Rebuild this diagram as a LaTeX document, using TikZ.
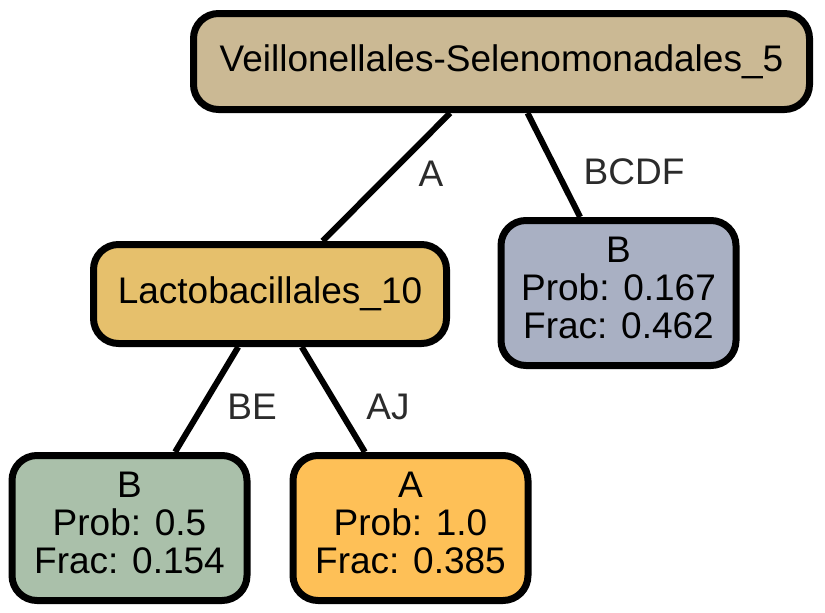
\documentclass[tikz,border=0pt]{standalone}
\usepackage{fontspec}
\setmainfont{Liberation Sans}
\usepackage{tikz}
\definecolor{rootcol}{RGB}{203,185,148}
\definecolor{lactocol}{RGB}{230,192,108}
\definecolor{bgreycol}{RGB}{169,176,195}
\definecolor{bgreencol}{RGB}{170,192,170}
\definecolor{aorangecol}{RGB}{254,192,87}
\definecolor{labelcol}{RGB}{43,43,43}

\begin{document}
\begin{tikzpicture}[x=1pt, y=-1pt,
  every node/.style={font=\fontsize{37}{38}\selectfont},
  box/.style={draw=black, line width=7pt, rounded corners=25pt, align=center, inner sep=0pt},
  leaf/.style={box, minimum width=235pt, minimum height=145pt},
  edge/.style={line width=6pt},
  elabel/.style={text=labelcol, inner sep=0pt}]
  \useasboundingbox (0,0) rectangle (825,613);
  % tree nodes
  \node[box, fill=rootcol, minimum width=616pt, minimum height=96pt] (root) at (501.5,61.5) {Veillonellales-Selenomonadales\_5};
  \node[box, fill=lactocol, minimum width=353pt, minimum height=99pt] (lacto) at (270,294) {Lactobacillales\_10};
  \node[leaf, fill=bgreycol] (leafB1) at (618.5,293) {B\\Prob: 0.167\\Frac: 0.462\strut};
  \node[leaf, fill=bgreencol] (leafB2) at (129.5,528) {B\\Prob: 0.5\\Frac: 0.154\strut};
  \node[leaf, fill=aorangecol] (leafA) at (410.5,528) {A\\Prob: 1.0\\Frac: 0.385\strut};
  % edges
  \draw[edge] (root) -- (lacto);
  \draw[edge] (root) -- (leafB1);
  \draw[edge] (lacto) -- (leafB2);
  \draw[edge] (lacto) -- (leafA);
  % edge labels
  \node[elabel] (labA) at (431,174) {A};
  \node[elabel] (labBCDF) at (634,172) {BCDF};
  \node[elabel] (labBE) at (252,407) {BE};
  \node[elabel] (labAJ) at (388,407) {AJ};
\end{tikzpicture}
\end{document}
